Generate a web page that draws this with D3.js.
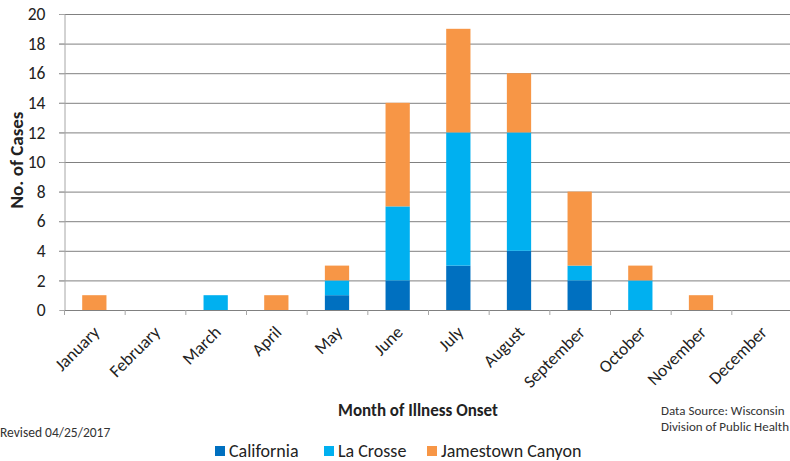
<!DOCTYPE html>
<html>
<head>
<meta charset="utf-8">
<script src="https://cdn.jsdelivr.net/npm/d3@7"></script>
<style>
  html, body { margin: 0; padding: 0; background: #fff; }
  svg { display: block; font-family: Carlito, Calibri, Lato, "Open Sans", sans-serif; }
</style>
</head>
<body>
<svg id="chart" width="790" height="461"></svg>
<script>
// Arboviral cases by month of illness onset
const months = ["January", "February", "March", "April", "May", "June",
                "July", "August", "September", "October", "November", "December"];
const california = [0, 0, 0, 0, 1, 2, 3, 4, 2, 0, 0, 0];
const laCrosse   = [0, 0, 1, 0, 1, 5, 9, 8, 1, 2, 0, 0];
const jamestown  = [1, 0, 0, 1, 1, 7, 7, 4, 5, 1, 1, 0];
const seriesNames = ["California", "La Crosse", "Jamestown Canyon"];
const seriesColors = ["#0070C0", "#00B0F0", "#F79646"];
const yTicks = [0, 2, 4, 6, 8, 10, 12, 14, 16, 18, 20];

const svg = d3.select("#chart");
const plotLeft = 64, plotRight = 792, plotTop = 14, plotBottom = 310;

const rows = months.map((m, i) => ({
  month: m, California: california[i], "La Crosse": laCrosse[i], "Jamestown Canyon": jamestown[i]
}));
const stack = d3.stack().keys(seriesNames)(rows);

const x = d3.scaleBand().domain(months).range([plotLeft, plotRight]).paddingInner(0.6).paddingOuter(0.3);
const xEdges = d3.scaleLinear().domain([0, months.length]).range([plotLeft, plotRight]);
const y = d3.scaleLinear().domain([0, 20]).range([plotBottom, plotTop]);
const color = d3.scaleOrdinal().domain(seriesNames).range(seriesColors);

// horizontal gridlines
svg.append("g").selectAll("line").data(yTicks.filter(d => d > 0)).join("line")
  .attr("x1", plotLeft - 5).attr("x2", plotRight)
  .attr("y1", d => y(d) + 0.5).attr("y2", d => y(d) + 0.5)
  .attr("stroke", "#808080").attr("stroke-width", 1);

// y axis
const yAxis = svg.append("g").attr("transform", `translate(${plotLeft + 0.5},0)`)
  .call(d3.axisLeft(y).tickValues(yTicks).tickSize(5).tickPadding(14));
yAxis.select(".domain").attr("stroke", "#a6a6a6");
yAxis.selectAll(".tick line").attr("stroke", "#a6a6a6");
yAxis.selectAll(".tick text").attr("font-size", 17.5).attr("fill", "#222")
  .attr("font-family", "Carlito, Calibri, Lato, sans-serif");

// stacked bars
svg.append("g").selectAll("g").data(stack).join("g")
  .attr("fill", d => color(d.key))
  .selectAll("rect").data(d => d).join("rect")
  .attr("x", d => x(d.data.month))
  .attr("width", x.bandwidth())
  .attr("y", d => y(d[1]))
  .attr("height", d => y(d[0]) - y(d[1]));

// x axis baseline and category boundary ticks
svg.append("line").attr("x1", plotLeft).attr("x2", plotRight)
  .attr("y1", plotBottom + 0.5).attr("y2", plotBottom + 0.5).attr("stroke", "#808080");
svg.append("g").selectAll("line").data(d3.range(months.length + 1)).join("line")
  .attr("x1", d => xEdges(d) + 0.5).attr("x2", d => xEdges(d) + 0.5)
  .attr("y1", plotBottom).attr("y2", plotBottom + 5).attr("stroke", "#a6a6a6");

// rotated month labels
svg.append("g").selectAll("text").data(months).join("text")
  .attr("transform", d => `translate(${x(d) + x.bandwidth() / 2 + 2},${plotBottom + 19}) rotate(-45)`)
  .attr("text-anchor", "end").attr("dy", "0.35em")
  .attr("font-size", 17.5).attr("fill", "#222")
  .text(d => d);

// axis titles
svg.append("text").attr("transform", "translate(23,160) rotate(-90)")
  .attr("text-anchor", "middle").attr("font-size", 19).attr("font-weight", "bold").attr("fill", "#222")
  .text("No. of Cases");
svg.append("text").attr("x", 418).attr("y", 416)
  .attr("text-anchor", "middle").attr("font-size", 17).attr("font-weight", "bold").attr("fill", "#222")
  .text("Month of Illness Onset");

// notes
svg.append("text").attr("x", 0).attr("y", 437).attr("font-size", 13.5).attr("fill", "#333")
  .text("Revised 04/25/2017");
svg.append("text").attr("x", 661).attr("y", 415).attr("font-size", 13).attr("fill", "#333")
  .text("Data Source:  Wisconsin");
svg.append("text").attr("x", 661).attr("y", 431).attr("font-size", 13).attr("fill", "#333")
  .text("Division of Public Health");

// legend
const legendX = [215, 324, 427];
const legend = svg.append("g").selectAll("g").data(seriesNames).join("g")
  .attr("transform", (d, i) => `translate(${legendX[i]},446)`);
legend.append("rect").attr("width", 10).attr("height", 10).attr("fill", d => color(d));
legend.append("text").attr("x", 14).attr("y", 11).attr("font-size", 18).attr("fill", "#222")
  .text(d => d);
</script>
</body>
</html>
